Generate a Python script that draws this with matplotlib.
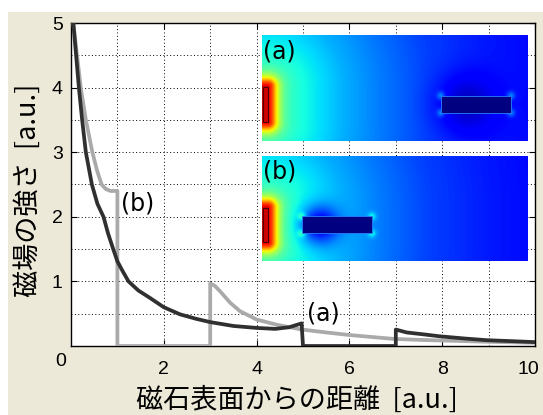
import numpy as np
import matplotlib
matplotlib.use('Agg')
import matplotlib.pyplot as plt
import matplotlib.transforms as mtransforms
from matplotlib.patches import Rectangle
from matplotlib.ticker import MultipleLocator, FixedLocator

# ---- curve data ----
dist_a = [0.05, 0.11, 0.17, 0.24, 0.32, 0.45, 0.57, 0.70, 0.80, 0.91, 1.00, 1.12, 1.24,
          1.45, 1.70, 2.00, 2.35, 2.70, 3.00, 3.50, 4.00, 4.40, 4.70, 4.97, 5.00, 7.00,
          7.00, 7.23, 7.60, 7.95, 8.50, 8.96, 9.50, 10.0]
field_a = [5.0, 4.5, 4.0, 3.5, 3.0, 2.5, 2.2, 2.0, 1.74, 1.5, 1.31, 1.15, 1.0,
           0.86, 0.745, 0.60, 0.49, 0.42, 0.37, 0.31, 0.28, 0.265, 0.29, 0.35, 0.0, 0.0,
           0.255, 0.21, 0.18, 0.15, 0.115, 0.09, 0.075, 0.06]

dist_b = [0.05, 0.13, 0.21, 0.32, 0.46, 0.56, 0.66, 0.75, 0.85, 1.00, 1.00, 3.00, 3.00,
          3.10, 3.21, 3.43, 3.64, 4.00, 4.43, 4.97, 5.50, 6.00, 6.95, 7.50, 8.00, 9.00, 10.0]
field_b = [5.0, 4.5, 4.0, 3.5, 3.0, 2.72, 2.5, 2.43, 2.40, 2.40, 0.0, 0.0, 0.97,
           0.93, 0.85, 0.67, 0.54, 0.41, 0.33, 0.255, 0.21, 0.17, 0.11, 0.095, 0.085, 0.065, 0.05]

x_ticks = [2, 4, 6, 8, 10]
y_ticks = [1, 2, 3, 4, 5]
x_label = '磁石表面からの距離  [a.u.]'
y_label = '磁場の強さ  [a.u.]'
label_a = '(a)'
label_b = '(b)'

# ---- inset field maps: colour level vs distance from the magnet (inset pixels) ----
profile_r = [0, 4, 8, 12, 17, 24, 34, 50, 75, 110, 160, 220, 280]
profile_v = [0.93, 0.84, 0.68, 0.55, 0.46, 0.41, 0.38, 0.35, 0.30, 0.25, 0.19, 0.15, 0.125]
block_a_x = [179, 249]
block_b_x = [40, 110]
block_y = [61, 78]
shadow_a = (205, 69.5, 30, 0.65)   # centre x, centre y, radius, depth
shadow_b = (58, 69.5, 19, 0.75)

W, H = 266, 106
MAG_X, MAG_CY, MAG_HALF = 6, 69.5, 17.5

BEIGE = '#ece9d8'
TICK_FONT = ['Liberation Sans', 'DejaVu Sans']

fig = plt.figure(figsize=(5.43, 4.15), dpi=100, facecolor='white')
fig.patches.append(Rectangle((8 / 543, 0), 1 - 8 / 543, 1 - 12 / 415,
                             transform=fig.transFigure, facecolor=BEIGE,
                             edgecolor='none', zorder=-10))

ax = fig.add_axes([71 / 543, 1 - 346 / 415, 464 / 543, 323 / 415])
ax.set_facecolor('white')
ax.plot(dist_b, field_b, color='#aaaaaa', lw=2.7, solid_joinstyle='round', zorder=3)
ax.plot(dist_a, field_a, color='#303030', lw=2.7, solid_joinstyle='round', zorder=4)

ax.set_xlim(0, 10)
ax.set_ylim(0, 5)
ax.xaxis.set_major_locator(FixedLocator(x_ticks))
ax.yaxis.set_major_locator(FixedLocator(y_ticks))
ax.xaxis.set_minor_locator(MultipleLocator(1))
ax.yaxis.set_minor_locator(MultipleLocator(0.5))
ax.grid(which='both', color='black', linestyle=(0, (1, 2.5)), linewidth=0.7)
ax.tick_params(which='both', direction='in', top=True, right=True, color='black')
ax.tick_params(which='major', length=4, width=0.8)
ax.tick_params(which='minor', length=0)
ax.tick_params(axis='x', pad=10.5)
ax.tick_params(axis='y', pad=6)
fig.canvas.draw()
for lab in ax.get_xticklabels() + ax.get_yticklabels():
    lab.set_fontfamily(TICK_FONT)
    lab.set_fontsize(14)
last = ax.get_xticklabels()[-1]
last.set_transform(last.get_transform() +
                   mtransforms.ScaledTranslation(-7 / 100, 0, fig.dpi_scale_trans))
for s in ax.spines.values():
    s.set_linewidth(1.0)
    s.set_color('black')

fig.text(61 / 543, 1 - 361.5 / 415, '0', family=TICK_FONT, fontsize=14,
         ha='center', va='center')
fig.text(297 / 543, 1 - 400 / 415, x_label, family=['Noto Sans CJK JP', 'DejaVu Sans'],
         fontsize=19.5, ha='center', va='center')
fig.text(28 / 543, 1 - 190 / 415, y_label, family=['Noto Sans CJK JP', 'DejaVu Sans'],
         fontsize=19.5, ha='center', va='center', rotation=90)

ax.text(1.08, 2.2, label_b, family='DejaVu Sans', fontsize=17, ha='left', va='center', zorder=5)
ax.text(5.08, 0.51, label_a, family='DejaVu Sans', fontsize=17, ha='left', va='center', zorder=5)


def field_map(shadow, block_x):
    yy, xx = np.mgrid[0:H:0.5, 0:W:0.5]
    xx = xx + 0.25
    yy = yy + 0.25
    dy = np.maximum(np.abs(yy - MAG_CY) - MAG_HALF, 0)
    dx = np.maximum(xx - MAG_X, 0)
    r = np.hypot(dx, dy)
    v = np.interp(r, profile_r, profile_v)
    sx, sy, rs, depth = shadow
    v = v * (1 - depth * np.exp(-((xx - sx) ** 2 + (yy - sy) ** 2) / rs ** 2))
    for cx in block_x:
        for cy in block_y:
            v = v + 0.12 * np.exp(-((xx - cx) ** 2 + (yy - cy) ** 2) / 4 ** 2)
    return v


def draw_inset(rect, shadow, block_x, label):
    iax = fig.add_axes(rect)
    iax.imshow(field_map(shadow, block_x), cmap='jet', vmin=0, vmax=1,
               extent=[0, W, H, 0], aspect='auto', interpolation='bilinear')
    iax.add_patch(Rectangle((0.5, 52), 5.5, 35, facecolor='none', edgecolor='#500000', lw=0.8))
    iax.add_patch(Rectangle((block_x[0], block_y[0]), block_x[1] - block_x[0],
                            block_y[1] - block_y[0], facecolor='#000080',
                            edgecolor='#2a7fff', lw=0.6))
    iax.set_xlim(0, W)
    iax.set_ylim(H, 0)
    iax.axis('off')
    iax.text(1, 16, label, family='DejaVu Sans', fontsize=17, ha='left', va='center')


draw_inset([262 / 543, 1 - 141 / 415, 266 / 543, 106 / 415], shadow_a, block_a_x, label_a)
draw_inset([262 / 543, 1 - 261 / 415, 266 / 543, 105 / 415], shadow_b, block_b_x, label_b)

fig.savefig('out.png', dpi=100, facecolor=fig.get_facecolor())
